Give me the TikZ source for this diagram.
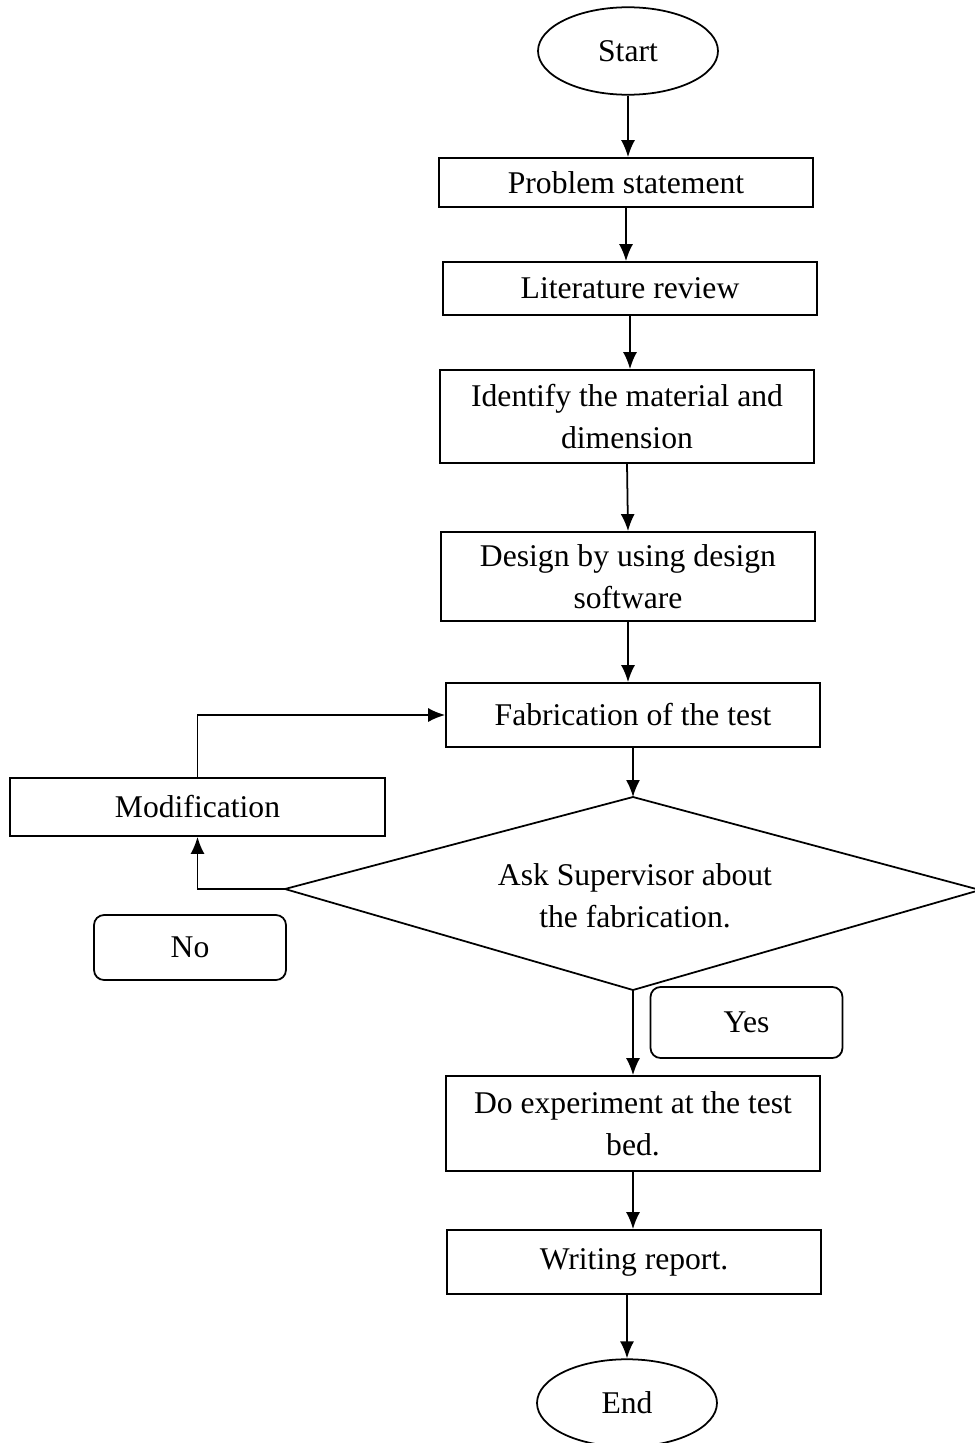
\documentclass[tikz,border=0pt]{standalone}
\usepackage{fontspec}
\setmainfont{Liberation Serif}
\usetikzlibrary{arrows.meta,shapes.geometric}

\begin{document}
\begin{tikzpicture}[x=0.02cm,y=-0.02cm,>={Latex[length=3.4mm,width=2.8mm]},
    every node/.style={font=\fontsize{18}{24}\selectfont},
    procbox/.style={draw,line width=1pt,minimum width=7.48cm,align=center,inner sep=2pt},
    answer/.style={draw,line width=1pt,rounded corners=0.2cm,minimum width=3.84cm},
    terminal/.style={draw,ellipse,line width=1pt,minimum width=3.6cm,minimum height=1.75cm},
    flow/.style={->,line width=1pt}]
  \useasboundingbox (0,0) rectangle (974,1443);
  \node[terminal] (start) at (628,51) {Start};
  \node[procbox,minimum height=0.98cm] (prob) at (626,182.5) {Problem statement};
  \node[procbox,minimum height=1.06cm] (lit) at (630,288.5) {Literature review};
  \node[procbox,minimum height=1.86cm] (ident) at (627,416.5) {Identify the material and\\dimension};
  \node[procbox,minimum height=1.78cm] (design) at (628,576.5) {Design by using design\\software};
  \node[procbox,minimum height=1.28cm] (fab) at (633,715) {Fabrication of the test};
  \node[procbox,minimum width=7.5cm,minimum height=1.16cm] (modif) at (197.5,807) {Modification};
  \coordinate (dl) at (285,889);
  \coordinate (dt) at (633,797);
  \coordinate (dr) at (980,890);
  \coordinate (db) at (633,990);
  \draw[line width=1pt] (dl) -- (dt) -- (dr) -- (db) -- cycle;
  \node[align=center] (ask) at (635,896) {Ask Supervisor about\\the fabrication.};
  \node[answer,minimum height=1.3cm] (no) at (190,947.5) {No};
  \node[answer,minimum height=1.42cm] (yes) at (746.5,1022.5) {Yes};
  \node[procbox,minimum height=1.9cm] (exper) at (633,1123.5) {Do experiment at the test\\bed.};
  \node[procbox,minimum height=1.28cm] (report) at (634,1262) {Writing report.};
  \node[terminal] (end) at (627,1403) {End};

  \draw[flow] (start.south) -- (start.south |- prob.north);
  \draw[flow] (prob.south) -- (prob.south |- lit.north);
  \draw[flow] (lit.south) -- (lit.south |- ident.north);
  \draw[flow] (ident.south) -- (design.north);
  \draw[flow] (design.south) -- (design.south |- fab.north);
  \draw[flow] (fab.south) -- (dt);
  \draw[flow] (db) -- (exper.north);
  \draw[flow] (exper.south) -- (exper.south |- report.north);
  \draw[flow] (report.south -| end.north) -- (end.north);
  \draw[flow] (dl) -| (modif.south);
  \draw[flow] (modif.north) |- (fab.west);
\end{tikzpicture}
\end{document}
